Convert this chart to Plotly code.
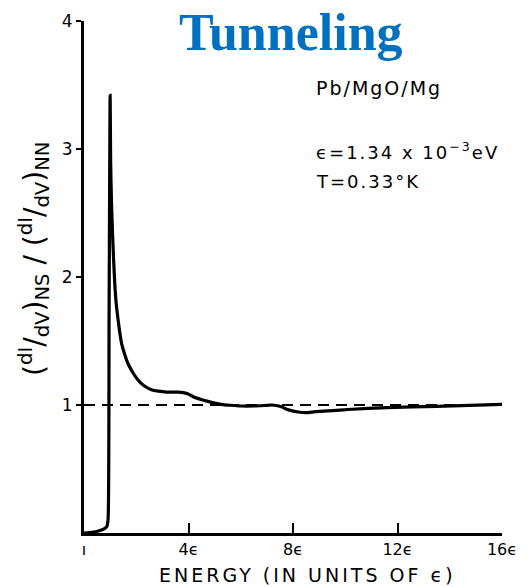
import plotly.graph_objects as go

# ---- data ----
energy = [0, 0.3, 0.55, 0.75, 0.87, 0.92, 0.96, 1.0, 1.02, 1.05, 1.09, 1.13, 1.18, 1.23,
          1.29, 1.36, 1.44, 1.55, 1.67, 1.85, 2.05, 2.3, 2.58, 3.0, 3.34, 3.6, 3.84, 4.0,
          4.22, 4.45, 4.71, 5.0, 5.25, 5.6, 6.0, 6.5, 6.9, 7.2, 7.5, 7.83, 8.2, 8.5,
          8.86, 9.5, 10.1, 11.6, 13.5, 16.15]
conductance = [0.0, 0.005, 0.015, 0.03, 0.05, 0.1, 1.7, 3.42, 2.9, 2.6, 2.35, 2.15, 1.94,
               1.8, 1.69, 1.58, 1.48, 1.4, 1.33, 1.26, 1.20, 1.15, 1.12, 1.105, 1.10, 1.10,
               1.095, 1.085, 1.06, 1.045, 1.03, 1.015, 1.005, 0.998, 0.992, 0.992, 0.996,
               1.0, 0.99, 0.962, 0.945, 0.94, 0.948, 0.956, 0.965, 0.98, 0.99, 1.005]
ref_x = [0, 16]
ref_y = [1, 1]
x_tickvals = [0, 4, 8, 12, 16]
x_ticktext = ["ı", "4ϵ", "8ϵ", "12ϵ", "16ϵ"]
y_tickvals = [1, 2, 3, 4]
y_ticktext = ["1", "2", "3", "4"]

FONT = "DejaVu Sans"

fig = go.Figure()
fig.add_trace(go.Scatter(x=ref_x, y=ref_y, mode="lines",
                         line=dict(color="black", width=2, dash="11px,7px"),
                         hoverinfo="skip", showlegend=False))
fig.add_trace(go.Scatter(x=energy, y=conductance, mode="lines",
                         line=dict(color="black", width=3.2, shape="spline", smoothing=0.5),
                         cliponaxis=False, showlegend=False))

fig.update_layout(
    width=528, height=587,
    margin=dict(l=84, r=23, t=11, b=54),
    plot_bgcolor="white", paper_bgcolor="white",
    font=dict(family=FONT, color="black"),
    xaxis=dict(range=[0, 16], showline=True, linewidth=3, linecolor="black",
               ticks="inside", ticklen=10, tickwidth=2, tickcolor="black",
               tickvals=x_tickvals, ticktext=x_ticktext,
               tickfont=dict(size=16, family=FONT),
               showgrid=False, zeroline=False),
    yaxis=dict(range=[0, 4], showline=True, linewidth=3, linecolor="black",
               ticks="outside", ticklen=5, tickwidth=2, tickcolor="black",
               tickvals=y_tickvals, ticktext=y_ticktext,
               tickfont=dict(size=17, family=FONT),
               showgrid=False, zeroline=False),
)

ann = []
ann.append(dict(text="<b>Tunneling</b>", x=0.496, y=0.978, xref="paper", yref="paper",
                xanchor="center", yanchor="middle", showarrow=False,
                font=dict(family="Liberation Serif", size=52, color="#0070C0")))
ann.append(dict(text='<span style="letter-spacing:2px">Pb/MgO/Mg</span>', x=8.82, y=3.48,
                xref="x", yref="y", xanchor="left", yanchor="middle", showarrow=False,
                font=dict(family=FONT, size=19)))
ann.append(dict(text='<span style="letter-spacing:2px">ϵ=1.34 x 10<sup>−3</sup>eV</span>',
                x=8.82, y=2.985, xref="x", yref="y", xanchor="left", yanchor="middle",
                showarrow=False, font=dict(family=FONT, size=18)))
ann.append(dict(text='<span style="letter-spacing:2px">T=0.33°K</span>', x=8.82, y=2.75,
                xref="x", yref="y", xanchor="left", yanchor="middle", showarrow=False,
                font=dict(family=FONT, size=18)))
ann.append(dict(text="(<sup>dI</sup>/<sub>dV</sub>)<sub>NS</sub> / (<sup>dI</sup>/<sub>dV</sub>)<sub>NN</sub>",
                x=-0.12, y=0.535, xref="paper", yref="paper", textangle=-90,
                xanchor="center", yanchor="middle", showarrow=False,
                font=dict(family=FONT, size=28)))
ann.append(dict(text='<span style="letter-spacing:3px">ENERGY (IN UNITS OF ϵ)</span>',
                x=0.534, y=-0.082, xref="paper", yref="paper",
                xanchor="center", yanchor="middle", showarrow=False,
                font=dict(family=FONT, size=19)))
fig.update_layout(annotations=ann)

fig.write_html("out.html")
